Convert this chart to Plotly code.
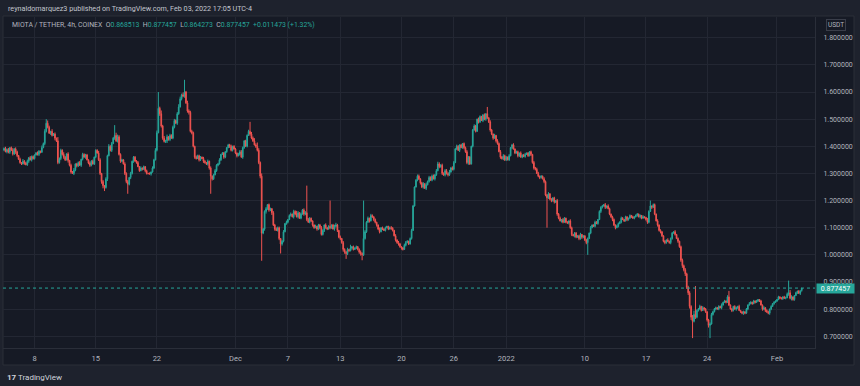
import plotly.graph_objects as go
import pandas as pd

# ---------------- data ----------------
START = "2021-11-04 12:00"          # first visible 4h candle (UTC)
FIRST_OPEN = 1.386

# closes of every 4h candle, one row per day (Nov 4 starts at 12:00)
CLOSE_BY_DAY = [
    [1.392, 1.380, 1.388],                                # Nov 4
    [1.378, 1.395, 1.385, 1.372, 1.390, 1.380],           # Nov 5
    [1.366, 1.352, 1.340, 1.335, 1.345, 1.338],
    [1.332, 1.345, 1.358, 1.350, 1.362, 1.355],
    [1.368, 1.375, 1.370, 1.382, 1.378, 1.395],           # Nov 8
    [1.410, 1.455, 1.485, 1.470, 1.448, 1.455],
    [1.440, 1.445, 1.430, 1.420, 1.340, 1.355],
    [1.385, 1.370, 1.360, 1.350, 1.372, 1.348],
    [1.330, 1.305, 1.300, 1.312, 1.335, 1.328],
    [1.340, 1.330, 1.352, 1.370, 1.360, 1.368],
    [1.350, 1.338, 1.330, 1.345, 1.335, 1.360],
    [1.385, 1.375, 1.350, 1.300, 1.270, 1.255],           # Nov 15
    [1.248, 1.280, 1.365, 1.400, 1.385, 1.410],
    [1.430, 1.440, 1.420, 1.435, 1.370, 1.345],
    [1.350, 1.335, 1.300, 1.270, 1.260, 1.285],
    [1.300, 1.345, 1.360, 1.345, 1.340, 1.325],
    [1.310, 1.320, 1.315, 1.325, 1.310, 1.300],
    [1.300, 1.298, 1.305, 1.320, 1.350, 1.385],
    [1.450, 1.540, 1.520, 1.475, 1.430, 1.418],           # Nov 22
    [1.420, 1.435, 1.425, 1.440, 1.430, 1.470],
    [1.495, 1.485, 1.520, 1.545, 1.575, 1.590],
    [1.585, 1.600, 1.560, 1.530, 1.525, 1.455],
    [1.450, 1.400, 1.360, 1.355, 1.365, 1.350],
    [1.360, 1.355, 1.345, 1.340, 1.335, 1.345],
    [1.320, 1.290, 1.280, 1.295, 1.310, 1.330],
    [1.335, 1.350, 1.370, 1.375, 1.360, 1.380],
    [1.395, 1.405, 1.400, 1.385, 1.400, 1.390],           # Nov 30
    [1.375, 1.365, 1.370, 1.380, 1.360, 1.395],           # Dec 1
    [1.420, 1.400, 1.440, 1.455, 1.445, 1.430],
    [1.420, 1.405, 1.400, 1.385, 1.340, 1.290],
    [1.080, 1.095, 1.160, 1.170, 1.185, 1.165],           # Dec 4
    [1.170, 1.155, 1.110, 1.095, 1.090, 1.100],
    [1.060, 1.040, 1.050, 1.085, 1.115, 1.120],
    [1.130, 1.145, 1.150, 1.140, 1.160, 1.150],           # Dec 7
    [1.140, 1.155, 1.135, 1.150, 1.165, 1.150],
    [1.155, 1.130, 1.120, 1.135, 1.125, 1.110],
    [1.100, 1.105, 1.095, 1.110, 1.100, 1.075],
    [1.090, 1.110, 1.100, 1.095, 1.105, 1.100],
    [1.110, 1.095, 1.105, 1.110, 1.090, 1.065],
    [1.060, 1.045, 1.020, 1.010, 1.005, 1.020],           # Dec 13
    [1.015, 1.025, 1.030, 1.020, 1.025, 1.030],
    [1.020, 1.010, 1.005, 1.000, 1.060, 1.085],
    [1.120, 1.135, 1.125, 1.145, 1.140, 1.130],
    [1.120, 1.110, 1.095, 1.085, 1.100, 1.095],
    [1.090, 1.100, 1.105, 1.095, 1.100, 1.098],
    [1.090, 1.070, 1.055, 1.045, 1.040, 1.030],
    [1.025, 1.020, 1.035, 1.045, 1.050, 1.040],           # Dec 20
    [1.060, 1.090, 1.180, 1.250, 1.275, 1.290],
    [1.280, 1.265, 1.250, 1.262, 1.245, 1.258],
    [1.270, 1.285, 1.275, 1.290, 1.280, 1.295],
    [1.310, 1.335, 1.325, 1.330, 1.300, 1.295],
    [1.310, 1.300, 1.295, 1.305, 1.320, 1.315],
    [1.340, 1.390, 1.400, 1.385, 1.405, 1.395],           # Dec 26
    [1.410, 1.395, 1.380, 1.340, 1.360, 1.335],
    [1.400, 1.460, 1.475, 1.455, 1.500, 1.490],
    [1.510, 1.495, 1.515, 1.500, 1.520, 1.505],
    [1.490, 1.460, 1.445, 1.430, 1.440, 1.420],
    [1.410, 1.380, 1.360, 1.355, 1.365, 1.350],           # Dec 31
    [1.360, 1.350, 1.365, 1.395, 1.405, 1.390],           # Jan 1
    [1.375, 1.380, 1.365, 1.375, 1.360, 1.368],
    [1.362, 1.370, 1.375, 1.365, 1.380, 1.370],
    [1.340, 1.320, 1.315, 1.300, 1.290, 1.285],
    [1.290, 1.280, 1.270, 1.220, 1.210, 1.225],
    [1.205, 1.200, 1.210, 1.195, 1.200, 1.150],
    [1.135, 1.125, 1.130, 1.120, 1.135, 1.120],
    [1.118, 1.125, 1.100, 1.075, 1.070, 1.080],
    [1.065, 1.070, 1.060, 1.075, 1.065, 1.070],
    [1.055, 1.045, 1.060, 1.080, 1.100, 1.110],           # Jan 10
    [1.105, 1.120, 1.115, 1.130, 1.160, 1.175],
    [1.180, 1.185, 1.175, 1.180, 1.170, 1.150],
    [1.140, 1.130, 1.110, 1.100, 1.105, 1.115],
    [1.120, 1.135, 1.130, 1.125, 1.140, 1.130],
    [1.135, 1.145, 1.140, 1.135, 1.140, 1.145],
    [1.150, 1.140, 1.145, 1.135, 1.140, 1.138],
    [1.130, 1.120, 1.160, 1.180, 1.175, 1.185],           # Jan 17
    [1.150, 1.125, 1.110, 1.090, 1.085, 1.070],
    [1.050, 1.045, 1.055, 1.050, 1.045, 1.060],
    [1.080, 1.085, 1.075, 1.060, 1.050, 1.030],
    [0.980, 0.960, 0.945, 0.930, 0.880, 0.860],           # Jan 21
    [0.810, 0.770, 0.755, 0.780, 0.770, 0.795],
    [0.800, 0.810, 0.795, 0.805, 0.800, 0.790],
    [0.760, 0.740, 0.745, 0.780, 0.790, 0.800],           # Jan 24
    [0.805, 0.800, 0.810, 0.805, 0.815, 0.825],
    [0.830, 0.825, 0.845, 0.815, 0.800, 0.795],
    [0.810, 0.800, 0.805, 0.810, 0.795, 0.790],
    [0.785, 0.790, 0.785, 0.800, 0.815, 0.820],
    [0.825, 0.820, 0.830, 0.825, 0.830, 0.835],
    [0.830, 0.815, 0.800, 0.805, 0.795, 0.790],
    [0.785, 0.800, 0.810, 0.820, 0.825, 0.830],           # Jan 31
    [0.835, 0.845, 0.840, 0.838, 0.845, 0.840],           # Feb 1
    [0.842, 0.855, 0.860, 0.840, 0.845, 0.835],
    [0.850, 0.860, 0.866, 0.858, 0.865984, 0.877457],     # Feb 3
]

# wick lengths above / below the body, one digit per candle (units of WICK_UNIT)
WICK_UNIT = 0.002
UPPER_WICK = [
    "232", "312423", "213142", "231322", "123214", "243531", "423172", "324213", "132412",
    "231322", "213231", "224313", "132423", "235432", "213231", "312223", "131212", "121324",
    "453624", "241323", "323542", "432433", "321322", "213213", "131232", "231221", "122312",
    "213332", "122324", "353742", "522312", "213232", "212313", "123132", "631323", "313211",
    "131223", "213123", "123421", "313223", "161212", "123213", "231321", "211312", "121123",
    "213132", "123321", "232123", "312314", "232331", "343232", "332423", "323212", "122322",
    "123213", "212312", "132131", "323232",
    "213123", "122131", "231212", "132331", "213223", "121213", "231321", "213212", "212311",
    "122131", "132122", "213132", "122132", "232121", "121212", "212131", "132312", "213121",
    "121312", "213121", "232323", "324732", "231312", "123322", "212131", "213212", "122131",
    "121213", "212121", "121312", "212121",
    "121212", "232531", "121220",
]
LOWER_WICK = [
    "213", "231324", "312213", "123132", "212321", "132213", "214232", "323214", "231323",
    "213213", "123212", "212345", "424123", "132323", "213342", "323121", "212132", "213121",
    "214332", "342312", "213213", "232342", "323213", "213223", "343212", "212132", "213221",
    "231213", "212132", "213234", "323423", "242312", "343212", "212132", "131213", "231223",
    "213232", "232213", "213232", "324343", "213212", "234322", "213123", "232312", "121213",
    "213232", "321212", "121112", "232313", "121213", "213232", "323212", "212131", "232342",
    "121213", "213232", "232313", "213232",
    "212131", "213212", "121213", "232123", "213232", "232323", "213212", "232313", "213232",
    "232121", "121213", "213212", "232312", "121213", "212121", "213212", "232131", "213232",
    "232123", "212132", "343434", "453232", "212132", "343121", "212131", "121213", "213212",
    "232121", "121212", "213232", "232121",
    "212121", "213242", "212131",
]

# long wicks / exact values read individually
HIGH_OVERRIDE = {
    "2021-11-09 08:00": 1.500, "2021-11-17 04:00": 1.478, "2021-11-22 04:00": 1.600,
    "2021-11-25 04:00": 1.645, "2021-12-02 16:00": 1.490, "2021-12-09 04:00": 1.255,
    "2021-12-11 20:00": 1.200, "2021-12-15 16:00": 1.200, "2021-12-29 20:00": 1.545,
    "2022-01-17 12:00": 1.200, "2022-01-22 16:00": 0.885, "2022-01-26 12:00": 0.867,
    "2022-02-02 08:00": 0.905, "2022-02-03 20:00": 0.877457,
}
LOW_OVERRIDE = {
    "2021-11-16 00:00": 1.235, "2021-11-18 16:00": 1.225, "2021-11-28 04:00": 1.225,
    "2021-12-04 00:00": 0.978, "2021-12-06 04:00": 1.005, "2021-12-13 16:00": 0.985,
    "2021-12-15 12:00": 0.980, "2022-01-05 16:00": 1.100, "2022-01-10 08:00": 1.000,
    "2022-01-22 08:00": 0.693, "2022-01-24 08:00": 0.693, "2022-02-03 20:00": 0.864273,
}
OPEN_OVERRIDE = {"2022-02-03 20:00": 0.868513}

LAST_PRICE = 0.877457
Y_TICKS = [0.7, 0.8, 0.9, 1.0, 1.1, 1.2, 1.3, 1.4, 1.5, 1.6, 1.7, 1.8]
X_TICK_DATES = ["2021-11-08", "2021-11-15", "2021-11-22", "2021-12-01", "2021-12-07",
                "2021-12-13", "2021-12-20", "2021-12-26", "2022-01-01", "2022-01-10",
                "2022-01-17", "2022-01-24", "2022-02-01"]
X_TICK_TEXT = ["8", "15", "22", "Dec", "7", "13", "20", "26", "2022", "10", "17", "24", "Feb"]

# ---------------- build OHLC ----------------
close = [c for day in CLOSE_BY_DAY for c in day]
up_w = [int(ch) for s in UPPER_WICK for ch in s]
dn_w = [int(ch) for s in LOWER_WICK for ch in s]
times = pd.date_range(START, periods=len(close), freq="4h")
keys = [t.strftime("%Y-%m-%d %H:%M") for t in times]

opens = [FIRST_OPEN] + close[:-1]
opens = [OPEN_OVERRIDE.get(k, o) for k, o in zip(keys, opens)]
high, low = [], []
for k, o, c, u, d in zip(keys, opens, close, up_w, dn_w):
    h = HIGH_OVERRIDE.get(k, max(o, c) + u * WICK_UNIT)
    l = LOW_OVERRIDE.get(k, min(o, c) - d * WICK_UNIT)
    high.append(max(h, o, c))
    low.append(min(l, o, c))

UP = "#26a69a"
DOWN = "#ef5350"
PANE = "#161a25"
FRAME = "#1e222d"
GRID = "#232733"
AXLINE = "#2a2e39"
TXT = "#b2b5be"
FONT = "Roboto, Arial, sans-serif"

fig = go.Figure(go.Candlestick(
    x=times, open=opens, high=high, low=low, close=close,
    increasing=dict(line=dict(color=UP, width=1), fillcolor=UP),
    decreasing=dict(line=dict(color=DOWN, width=1), fillcolor=DOWN),
    whiskerwidth=0, showlegend=False, hoverinfo="skip",
))

# plot area: x 3..815 px, y 17..348 px
PW, PH = 812.0, 331.0
def px(X):
    return (X - 3) / PW
def py(Y):
    return (348 - Y) / PH

fig.update_layout(
    width=860, height=386, autosize=False,
    margin=dict(l=3, r=45, t=17, b=38, pad=0),
    paper_bgcolor=FRAME, plot_bgcolor=PANE,
    font=dict(family=FONT, color=TXT, size=7),
    hovermode=False,
    xaxis=dict(
        type="date", range=["2021-11-04 09:10", "2022-02-05 08:28"],
        tickvals=X_TICK_DATES, ticktext=X_TICK_TEXT,
        showgrid=True, gridcolor=GRID, gridwidth=1, zeroline=False,
        showline=True, linecolor=AXLINE, linewidth=1, ticks="",
        tickfont=dict(size=7.5, color=TXT), ticklabelstandoff=3,
        rangeslider=dict(visible=False), fixedrange=True,
    ),
    yaxis=dict(
        side="right", range=[0.6566, 1.8765],
        tickvals=Y_TICKS, ticktext=[f"{v:.6f}" for v in Y_TICKS],
        showgrid=True, gridcolor=GRID, gridwidth=1, zeroline=False,
        showline=True, linecolor=AXLINE, linewidth=1, ticks="",
        tickfont=dict(size=7, color=TXT), ticklabelstandoff=6, fixedrange=True,
    ),
    shapes=[
        dict(type="rect", xref="paper", yref="paper", x0=px(3), x1=px(854),
             y0=py(365), y1=py(16), fillcolor=PANE, line=dict(color=AXLINE, width=1),
             layer="below"),
        dict(type="line", xref="paper", yref="y", x0=0, x1=1, y0=LAST_PRICE, y1=LAST_PRICE,
             line=dict(color=UP, width=1, dash="dot"), layer="above"),
    ],
)

g = lambda s: f'<span style="color:{UP}">{s}</span>'
legend_text = ("MIOTA / TETHER, 4h, COINEX&nbsp;&nbsp;O" + g("0.868513") + "&nbsp;&nbsp;H" + g("0.877457")
               + "&nbsp;&nbsp;L" + g("0.864273") + "&nbsp;&nbsp;C" + g("0.877457")
               + "&nbsp;&nbsp;" + g("+0.011473 (+1.32%)"))

fig.add_annotation(x=px(6), y=py(8.5), xref="paper", yref="paper", xanchor="left", yanchor="middle",
                   text="reynaldomarquez3 published on TradingView.com, Feb 03, 2022 17:05 UTC-4",
                   showarrow=False, font=dict(size=7.2, color="#c3c6ce"))
fig.add_annotation(x=px(10), y=py(25), xref="paper", yref="paper", xanchor="left", yanchor="middle",
                   text=legend_text, showarrow=False, font=dict(size=6.9, color=TXT))
fig.add_annotation(x=px(835.5), y=py(25), xref="paper", yref="paper", xanchor="center", yanchor="middle",
                   text="USDT", showarrow=False, font=dict(size=6.5, color=TXT),
                   bordercolor="#3a3e4a", borderwidth=1, borderpad=1)
fig.add_annotation(x=px(816), y=LAST_PRICE, xref="paper", yref="y", xanchor="left", yanchor="middle",
                   text="0.877457", showarrow=False, font=dict(size=7, color="#ffffff"),
                   bgcolor=UP, width=35, height=7, borderpad=1, align="center")
fig.add_annotation(x=px(5), y=py(377), xref="paper", yref="paper", xanchor="left", yanchor="middle",
                   text="<b>17</b> TradingView", showarrow=False,
                   font=dict(size=8, color="#d1d4dc"))

fig.write_html("out.html", config={"displayModeBar": False, "staticPlot": True},
               post_script="document.body.style.margin='0px';"
               "document.body.style.overflow='hidden';")
